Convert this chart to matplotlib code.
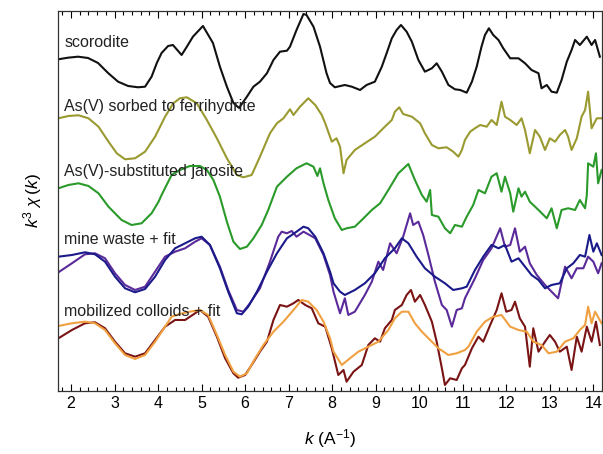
import matplotlib
matplotlib.use('Agg')
import matplotlib.pyplot as plt
from matplotlib.ticker import MultipleLocator

plt.rcParams['font.family'] = ['Liberation Sans', 'DejaVu Sans']
plt.rcParams['mathtext.fontset'] = 'custom'
plt.rcParams['mathtext.rm'] = 'Liberation Sans'
plt.rcParams['mathtext.it'] = 'Liberation Sans:italic'

# scorodite
k_scor = [1.71, 1.93, 2.16, 2.39, 2.62, 2.85, 3.08, 3.31, 3.54, 3.70, 3.85, 3.97, 4.08, 4.23, 4.34,
          4.54, 4.66, 4.80, 5.03, 5.26, 5.42, 5.58, 5.73, 5.86, 6.04, 6.19, 6.34, 6.50, 6.65, 6.80,
          6.96, 7.03, 7.18, 7.34, 7.41, 7.57, 7.72, 7.87, 7.95, 8.06, 8.29, 8.45, 8.64, 8.79, 8.98,
          9.14, 9.25, 9.37, 9.48, 9.58, 9.71, 9.83, 9.98, 10.13, 10.29, 10.40, 10.52, 10.67, 10.82,
          10.94, 11.09, 11.21, 11.32, 11.43, 11.51, 11.60, 11.70, 11.82, 11.93, 12.09, 12.28, 12.43,
          12.58, 12.74, 12.81, 12.93, 13.04, 13.16, 13.27, 13.39, 13.50, 13.58, 13.69, 13.85, 13.96,
          14.04, 14.15]
chi_scor = [0.7, 2.3, 3.3, 2, -3, -13, -21.7, -26, -27.3, -26.7, -16.7, -3, 7, 14, 15,
            5, 13.3, 23.3, 34, 17, -6.7, -26.7, -43, -48, -36.7, -26.7, -21.7, -13.3, 0, 8.3,
            9.3, 13.3, 30, 46, 45, 33.3, 13.3, -13.3, -23, -27.3, -25, -26.7, -30, -25, -21.7,
            -6.7, 6.7, 21.7, 30, 35, 28.3, 18.3, 0, -11.7, -8.3, -3.3, -11.7, -25, -29.3,
            -30, -32.7, -21.7, -6.7, 13.3, 25, 31.7, 25, 20, 11.7, 1.7, 1.7, -3.3,
            -10, -13.3, -28.3, -25, -31.7, -32.7, -20, -1.7, 10, 20, 15, 23.3, 15,
            20, 3.3]

# As(V) sorbed to ferrihydrite
k_ferr = [1.71, 1.94, 2.17, 2.40, 2.63, 2.86, 3.05, 3.24, 3.47, 3.70, 3.93, 4.16, 4.35, 4.50, 4.66,
          4.89, 5.12, 5.35, 5.58, 5.81, 5.96, 6.15, 6.34, 6.57, 6.73, 6.88, 7.03, 7.11, 7.26, 7.45,
          7.61, 7.76, 7.84, 7.99, 8.10, 8.18, 8.26, 8.33, 8.52, 8.75, 8.98, 9.21, 9.37, 9.44, 9.54,
          9.63, 9.83, 10.02, 10.13, 10.29, 10.44, 10.63, 10.78, 10.90, 10.98, 11.05, 11.17, 11.28,
          11.40, 11.55, 11.66, 11.78, 11.89, 11.97, 12.09, 12.24, 12.35, 12.43, 12.54, 12.66, 12.77,
          12.89, 13.00, 13.12, 13.23, 13.35, 13.42, 13.50, 13.62, 13.73, 13.81, 13.88, 13.96, 14.08,
          14.19]
chi_ferr = [11.7, 14, 14.7, 11.7, 3.3, -11.7, -23.3, -29.3, -28.3, -21.7, -6.7, 13.3, 26.7, 31.7, 32.7,
            26.7, 10, -8.3, -28.3, -45, -47.3, -45, -26.7, -3.3, 6.7, 11.7, 20.7, 15, 23.3, 31.7,
            25, 15, 6.7, -11.7, -8.3, -16.7, -43.3, -30, -20, -13.3, -6.7, 3.3, 10, 18.3, 22.7,
            16, 13.3, 6.7, -3.3, -15, -18.3, -17.3, -21.7, -26.7, -20, -10, -1.7, 1.7,
            5, 3.3, 10, 5, 28.3, 13.3, 10, 5, 11.7, 0, -23.3, 0, -6.7,
            -20, -8.3, -11.7, -5, 0, -6.7, -20, -8.3, 13.3, 20, 38.3, 1.7, 11.7,
            11.7]

# As(V)-substituted jarosite
k_jar = [1.71, 1.94, 2.17, 2.40, 2.63, 2.86, 3.16, 3.39, 3.62, 3.85, 4.01, 4.08, 4.31, 4.50, 4.73,
         4.96, 5.12, 5.27, 5.42, 5.58, 5.73, 5.88, 6.04, 6.19, 6.38, 6.53, 6.73, 6.96, 7.18, 7.41,
         7.57, 7.66, 7.72, 7.80, 7.91, 8.06, 8.22, 8.33, 8.52, 8.68, 8.91, 9.10, 9.29, 9.52, 9.75,
         9.90, 10.06, 10.17, 10.25, 10.29, 10.44, 10.59, 10.71, 10.82, 10.98, 11.09, 11.24, 11.36,
         11.51, 11.66, 11.78, 11.89, 11.97, 12.09, 12.16, 12.28, 12.35, 12.43, 12.54, 12.74, 12.93,
         13.04, 13.16, 13.27, 13.42, 13.58, 13.69, 13.81, 13.85, 13.88, 14.00, 14.06, 14.11, 14.19]
chi_jar = [11.7, 15, 16.7, 14, 6.7, -6.7, -20, -25, -23.3, -13.3, -1.7, 5, 25, 30, 34,
           34, 30, 20, 3.3, -21.7, -41.7, -49, -46.7, -38.3, -25, -10, 13.3, 23.3, 31.7, 36.7,
           33.3, 24, 31.7, 16.7, 0, -18.3, -30, -28.3, -26.7, -20, -10, -3.3, 10, 26.7, 36,
           20, 5, -1.7, 10, -15, -16.7, -28.3, -33.3, -25, -26.7, -16.7, -5, 10,
           6.7, 23.3, 26.7, 8.3, 23.3, 6.7, -11.7, 11.7, 3.3, 8.3, -1.7, -10, -18.3,
           -8.3, -28.3, -10, -8.3, -10, 0, -8.3, 5, 36.7, 33.3, 46.7, 16.7, 30]

# mine waste: data and fit
k_mine = [1.71, 2.02, 2.32, 2.55, 2.78, 3.01, 3.24, 3.47, 3.70, 3.93, 4.16, 4.39, 4.62, 4.85, 5.00,
          5.19, 5.42, 5.61, 5.81, 5.96, 6.11, 6.34, 6.57, 6.76, 6.84, 6.96, 7.07, 7.18, 7.34, 7.45,
          7.61, 7.80, 7.95, 8.03, 8.18, 8.29, 8.37, 8.52, 8.75, 8.91, 9.06, 9.17, 9.33, 9.48, 9.63,
          9.79, 9.86, 9.98, 10.09, 10.21, 10.36, 10.52, 10.63, 10.75, 10.86, 10.98, 11.05, 11.28,
          11.47, 11.66, 11.86, 11.97, 12.09, 12.20, 12.31, 12.43, 12.54, 12.70, 12.89, 13.04, 13.19,
          13.35, 13.50, 13.62, 13.77, 13.88, 14.00, 14.11, 14.19]
chi_mine = [-2.3, 6.7, 15.7, 16.7, 11.7, -3.3, -15, -20, -16.7, -1.7, 13.3, 18.3, 21.7, 28.3, 31.7,
            25, 3.3, -20, -40, -41.7, -33.3, -18.3, 8.3, 33.3, 38.3, 36.7, 39, 33.3, 38.3, 35.7,
            31.7, 15, -5, -21.7, -43.3, -28.3, -45, -41.7, -25, -11.7, 8.3, 0, 26.7, 16.7, 33.3,
            56.7, 45, 48.3, 35, 15, -11.7, -35, -40, -56.7, -40, -38.3, -28.3, -8.3,
            10, 21.7, 41.7, 23.3, 25, 41.7, 18.3, 23.3, 6.7, -5, -15, -21.7, -28.3,
            3.3, -8.3, 1.7, 1.7, 13.3, 8.3, -3.3, 6.7]

k_mine_fit = [1.71, 2.02, 2.32, 2.55, 2.78, 3.01, 3.24, 3.47, 3.70, 3.93, 4.16, 4.39, 4.62, 4.85, 5.00,
              5.19, 5.42, 5.61, 5.81, 5.92, 6.07, 6.27, 6.50, 6.73, 6.96, 7.18, 7.34, 7.45, 7.61, 7.80,
              7.95, 8.03, 8.18, 8.29, 8.52, 8.75, 8.98, 9.21, 9.44, 9.60, 9.75, 9.94, 10.13, 10.36,
              10.59, 10.78, 10.98, 11.09, 11.28, 11.47, 11.66, 11.82, 11.97, 12.12, 12.28, 12.43, 12.58,
              12.74, 12.89, 13.04, 13.23, 13.39, 13.54, 13.69, 13.81, 13.91, 14.00, 14.08, 14.19]
chi_mine_fit = [13.3, 15, 17.7, 15.7, 8.3, -6.7, -18.3, -22.3, -19, -6.7, 10, 21.7, 26.7, 31.7, 33.3,
                25, 1.7, -21.7, -43.3, -44.3, -36.7, -21.7, -1.7, 16.7, 31.7, 38.3, 43.3, 41.7, 33.3, 16.7,
                -1.7, -13.3, -21.7, -25, -20, -13.3, -3.3, 11.7, 21.7, 31.7, 26.7, 13.3, 1.7, -6.7,
                -13.3, -20, -18.3, -16.7, 0, 13.3, 25, 21.7, 25, 8.3, 11.7, 3.3, -5,
                -10, -18.3, -15, -13.3, 1.7, 6.7, 15, 13.3, 35, 18.3, 26.7, 15]

# mobilized colloids: data and fit
k_coll = [1.71, 2.02, 2.32, 2.55, 2.78, 3.01, 3.24, 3.47, 3.70, 3.93, 4.16, 4.39, 4.62, 4.85, 4.96,
          5.15, 5.35, 5.54, 5.73, 5.84, 6.00, 6.15, 6.34, 6.50, 6.65, 6.80, 6.96, 7.11, 7.22, 7.38,
          7.53, 7.68, 7.84, 7.99, 8.14, 8.26, 8.33, 8.49, 8.68, 8.83, 8.98, 9.10, 9.21, 9.37, 9.44,
          9.60, 9.71, 9.81, 9.90, 10.02, 10.13, 10.29, 10.40, 10.52, 10.59, 10.71, 10.86, 10.98,
          11.05, 11.21, 11.36, 11.47, 11.63, 11.78, 11.89, 12.00, 12.12, 12.20, 12.31, 12.43, 12.54,
          12.62, 12.74, 12.89, 13.00, 13.12, 13.23, 13.39, 13.50, 13.62, 13.73, 13.85, 13.96, 14.06,
          14.15]
chi_coll = [1.7, 10, 16.7, 17.7, 11.7, -1.7, -13.3, -16.7, -13.3, 0, 13.3, 20, 20, 26.7, 30,
            23.3, 3.3, -18.3, -33.3, -37.7, -35, -25, -11.7, -1.7, 20, 35, 33.3, 36.7, 40, 35,
            31.7, 16.7, 13.3, -8.3, -35, -30, -41.7, -31.7, -25, -5, 1.7, -1.7, 11.7, 20, 30,
            35, 45, 50, 38.3, 45, 35, 18.3, -1.7, -28.3, -45, -38.3, -40, -28.3,
            -25, -8.3, 3.3, -1.7, 15, 30, 46.7, 28.3, 30, 38.3, 21.7, 13.3, -26.7,
            11.7, -11.7, -1.7, 5, -1.7, -11.7, -6.7, -30, 3.3, -11.7, 13.3, -1.7, 18.3,
            -5]

k_coll_fit = [1.71, 2.02, 2.32, 2.55, 2.78, 3.01, 3.24, 3.47, 3.70, 3.93, 4.16, 4.31, 4.50, 4.73, 4.96,
              5.15, 5.35, 5.54, 5.73, 5.88, 6.04, 6.23, 6.42, 6.65, 6.88, 7.11, 7.30, 7.45, 7.64, 7.80,
              7.95, 8.03, 8.22, 8.41, 8.60, 8.83, 9.06, 9.29, 9.44, 9.60, 9.75, 9.90, 10.06, 10.25,
              10.44, 10.67, 10.86, 11.05, 11.13, 11.32, 11.51, 11.70, 11.89, 12.09, 12.28, 12.47, 12.62,
              12.81, 12.97, 13.16, 13.35, 13.54, 13.69, 13.81, 13.88, 13.96, 14.04, 14.19]
chi_coll_fit = [14, 16.7, 18.3, 16.7, 10, -3.3, -15, -19, -15, -1.7, 13.3, 23.3, 26, 28.3, 30,
                25, 5, -15, -31.7, -36.7, -33.3, -18.3, -5, 8.3, 18.3, 30, 40, 38.3, 30, 18.3,
                1.7, -11.7, -25, -18.3, -11.7, -6.7, -1.7, 10, 21.7, 28.3, 28.3, 16.7, 8.3, 0,
                -8.3, -15, -13.3, -10, -6.7, 8.3, 18.3, 23.3, 25, 13.3, 10, 8.3, -1.7,
                -5, -13.3, -11.7, -1.7, 1.7, 10, 15, 33.3, 16.7, 28.3, 16.7]

labels = ['scorodite', 'As(V) sorbed to ferrihydrite', 'As(V)-substituted jarosite',
          'mine waste + fit', 'mobilized colloids + fit']

# vertical stacking of the spectra
offsets = [331, 261, 191, 121, 51]
label_y = [344, 280, 215, 147, 75]

fig = plt.figure(figsize=(6.03, 4.54), dpi=100)
ax = fig.add_axes([0.0962, 0.1388, 0.9015, 0.837])

lw = 1.5
ax.plot(k_scor, [c + offsets[0] for c in chi_scor], color='#111111', lw=lw)
ax.plot(k_ferr, [c + offsets[1] for c in chi_ferr], color='#9a9a30', lw=lw)
ax.plot(k_jar, [c + offsets[2] for c in chi_jar], color='#2a9a2a', lw=lw)
ax.plot(k_mine, [c + offsets[3] for c in chi_mine], color='#5a2a9a', lw=lw)
ax.plot(k_mine_fit, [c + offsets[3] for c in chi_mine_fit], color='#1a1a8a', lw=lw)
ax.plot(k_coll, [c + offsets[4] for c in chi_coll], color='#7a1414', lw=lw)
ax.plot(k_coll_fit, [c + offsets[4] for c in chi_coll_fit], color='#f0a040', lw=lw)

for lab, ly in zip(labels, label_y):
    ax.text(1.84, ly, lab, fontsize=11.5, color='#222222', va='baseline', ha='left')

ax.set_xlim(1.7, 14.19)
ax.set_ylim(0, 380)
ax.xaxis.set_major_locator(MultipleLocator(1))
ax.xaxis.set_minor_locator(MultipleLocator(0.2))
ax.tick_params(axis='x', which='both', direction='in', top=True, bottom=True, labelsize=11.5)
ax.tick_params(axis='x', which='major', length=5, width=0.8)
ax.tick_params(axis='x', which='minor', length=3, width=0.8)
ax.tick_params(axis='y', left=False, labelleft=False)
for s in ax.spines.values():
    s.set_linewidth(0.9)
    s.set_color('#333333')

ax.set_xlabel(r'$k$ (A$^{-1}$)', fontsize=12.5, labelpad=12)
ax.set_ylabel(r'$k^3\ \chi\,(k)$', fontsize=12.5, labelpad=10)

fig.savefig('out.png', dpi=100)
